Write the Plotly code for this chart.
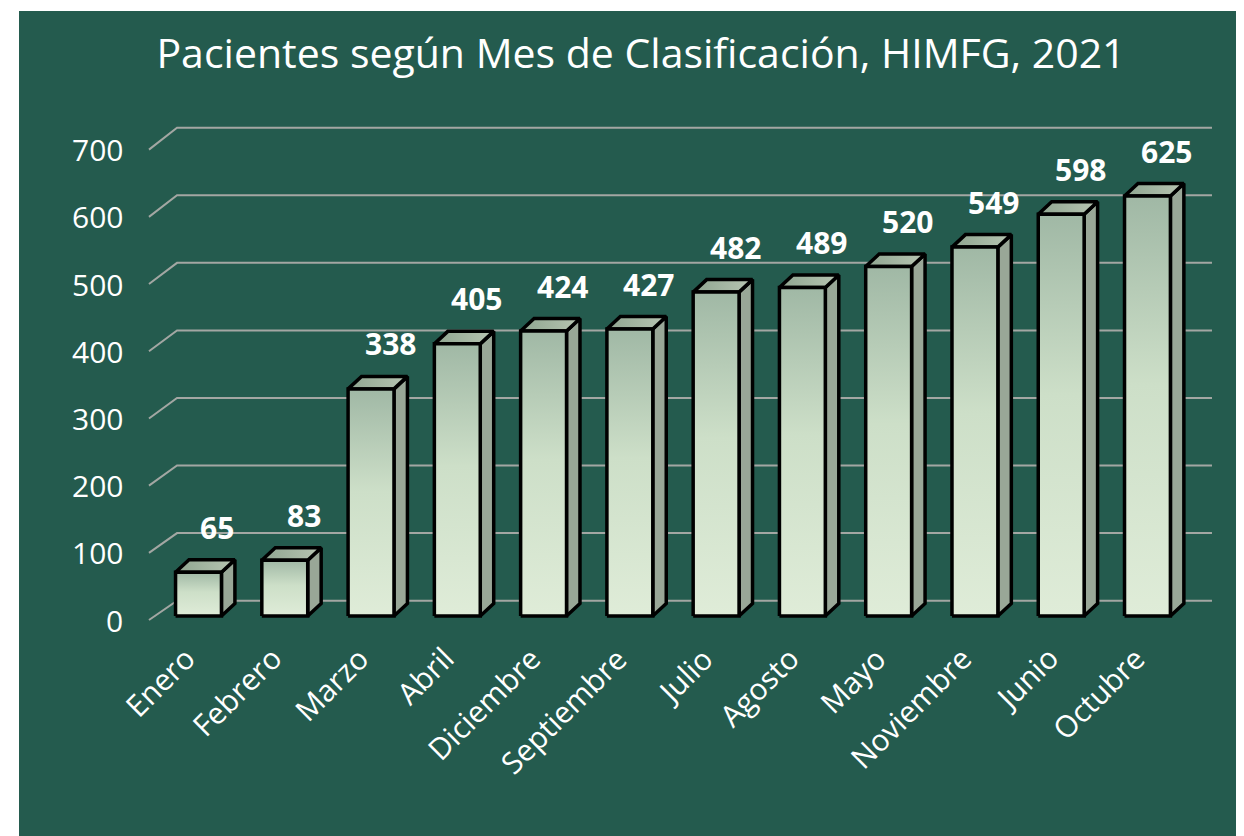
import plotly.graph_objects as go

# ---------------- data ----------------
months = ["Enero", "Febrero", "Marzo", "Abril", "Diciembre", "Septiembre",
          "Julio", "Agosto", "Mayo", "Noviembre", "Junio", "Octubre"]
patients = [65, 83, 338, 405, 424, 427, 482, 489, 520, 549, 598, 625]
y_ticks = [0, 100, 200, 300, 400, 500, 600, 700]
title_text = "Pacientes según Mes de Clasificación, HIMFG, 2021"

# ---------------- style / 3D projection params ----------------
BG = "#245b4e"
GRID = "#a3a7a3"
FONT = "Open Sans"
HALF_W = 0.266        # half bar width (category units)
DEPTH_X = 0.156       # bar depth projection, x (category units)
DEPTH_Y = 18.6        # bar depth projection, y (value units)
WALL_FRONT_X = -0.574
WALL_FRONT_DY = -6.0
WALL_BACK_X = -0.249
WALL_BACK_SCALE = 1.0055
WALL_BACK_DY = 22.8
WALL_RIGHT_X = 11.748

fig = go.Figure()

# back wall gridlines (with perspective diagonal on the left)
for g in y_ticks:
    fig.add_trace(go.Scatter(
        x=[WALL_FRONT_X, WALL_BACK_X, WALL_RIGHT_X],
        y=[g + WALL_FRONT_DY, g * WALL_BACK_SCALE + WALL_BACK_DY, g * WALL_BACK_SCALE + WALL_BACK_DY],
        mode="lines", line=dict(color=GRID, width=2),
        hoverinfo="skip", showlegend=False))

# 3D bars
for i, v in enumerate(patients):
    xl, xr = i - HALF_W, i + HALF_W
    # side face
    fig.add_trace(go.Scatter(
        x=[xr, xr + DEPTH_X, xr + DEPTH_X, xr, xr],
        y=[0, DEPTH_Y, v + DEPTH_Y, v, 0],
        mode="lines", fill="toself", fillcolor="#99a797",
        line=dict(color="black", width=3.5), hoverinfo="skip", showlegend=False))
    # top face
    fig.add_trace(go.Scatter(
        x=[xl, xr, xr + DEPTH_X, xl + DEPTH_X, xl],
        y=[v, v, v + DEPTH_Y, v + DEPTH_Y, v],
        mode="lines", fill="toself",
        fillgradient=dict(type="horizontal",
                          colorscale=[[0, "#8fa590"], [1, "#b7c5b2"]],
                          start=xl, stop=xr + DEPTH_X),
        line=dict(color="black", width=3.5), hoverinfo="skip", showlegend=False))
    # front face
    fig.add_trace(go.Scatter(
        x=[xl, xr, xr, xl, xl],
        y=[0, 0, v, v, 0],
        mode="lines", fill="toself",
        fillgradient=dict(type="vertical",
                          colorscale=[[0, "#dfecd8"], [0.55, "#cddfc8"], [1, "#a0b8a5"]],
                          start=0, stop=v),
        line=dict(color="black", width=3.5),
        name=months[i], hovertemplate="%{fullData.name}: " + str(v) + "<extra></extra>",
        showlegend=False))

annotations = []
# data labels
for i, v in enumerate(patients):
    annotations.append(dict(
        x=i + 0.22, y=v + DEPTH_Y, xref="x", yref="y", text=f"<b>{v}</b>",
        showarrow=False, xanchor="center", yanchor="bottom", yshift=10,
        font=dict(family=FONT, size=30, color="white")))
# y tick labels (front wall)
for g in y_ticks:
    annotations.append(dict(
        x=WALL_FRONT_X, y=g + WALL_FRONT_DY, xref="x", yref="y", text=str(g),
        showarrow=False, xanchor="right", yanchor="middle", xshift=-24,
        font=dict(family=FONT, size=30, color="white")))
# category labels
for i, m in enumerate(months):
    annotations.append(dict(
        x=i, y=0.008, xref="x", yref="paper", text=m, textangle=-45,
        showarrow=False, xanchor="right", yanchor="top", xshift=8,
        font=dict(family=FONT, size=30, color="white")))

shapes = [
    dict(type="rect", xref="paper", yref="paper", x0=-0.2, x1=1.1,
         y0=(640 - 11) / 540, y1=1.3, fillcolor="white", line=dict(width=0), layer="above"),
    dict(type="rect", xref="paper", yref="paper", x0=-0.2, x1=(19 - 140) / 1080,
         y0=-0.5, y1=1.3, fillcolor="white", line=dict(width=0), layer="above"),
]

fig.update_layout(
    width=1244, height=836,
    margin=dict(l=132, r=32, t=92, b=204),
    paper_bgcolor=BG, plot_bgcolor="rgba(0,0,0,0)",
    title=dict(text=title_text, x=633 / 1244, xanchor="center", xref="container",
               y=1 - 46 / 836, yanchor="middle", yref="container",
               font=dict(family=FONT, size=41, color="white")),
    xaxis=dict(range=[-0.6781, 11.8408], visible=False, fixedrange=True),
    yaxis=dict(range=[-35.7, 767.9], visible=False, fixedrange=True),
    annotations=annotations, shapes=shapes, showlegend=False,
)

fig.write_html("out.html")
